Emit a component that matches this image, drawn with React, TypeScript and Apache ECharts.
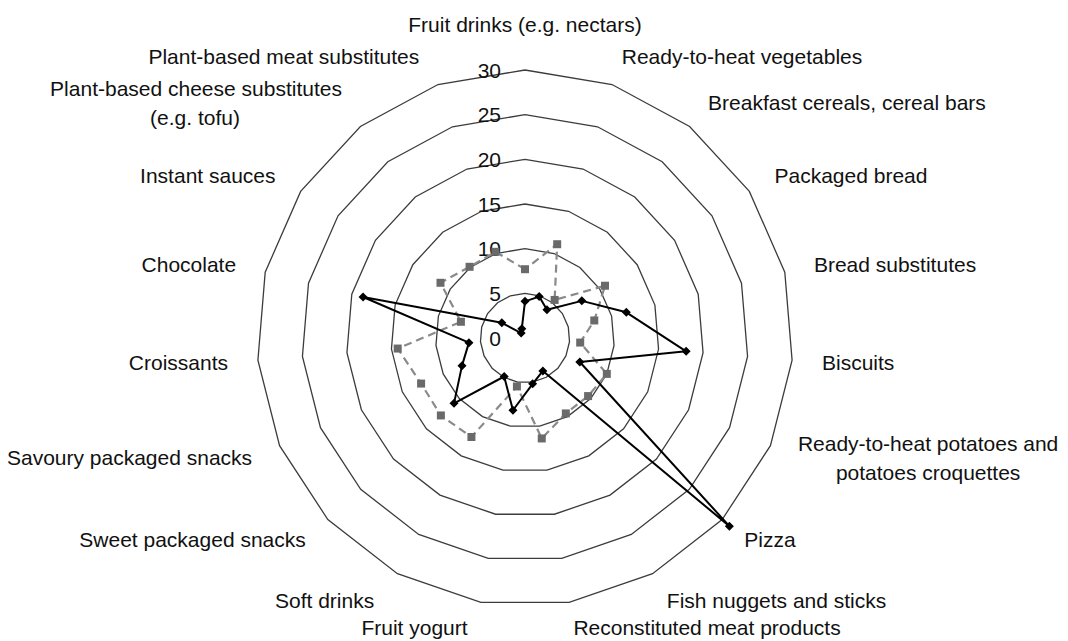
import React, { useEffect, useRef } from "react";
import * as echarts from "echarts";

// Categories in clockwise order, starting at the top
const categories: string[] = [
  "Fruit drinks (e.g. nectars)",
  "Ready-to-heat vegetables",
  "Breakfast cereals, cereal bars",
  "Packaged bread",
  "Bread substitutes",
  "Biscuits",
  "Ready-to-heat potatoes and\npotatoes croquettes",
  "Pizza",
  "Fish nuggets and sticks",
  "Reconstituted meat products",
  "Fruit yogurt",
  "Soft drinks",
  "Sweet packaged snacks",
  "Savoury packaged snacks",
  "Croissants",
  "Chocolate",
  "Instant sauces",
  "Plant-based cheese substitutes\n(e.g. tofu)",
  "Plant-based meat substitutes",
];

const solidSeries: number[] = [
  4.1, 4.9, 4.0, 7.6, 11.7, 18.1, 6.7, 31.1, 4.2, 5.2, 8.2, 4.9, 10.8, 7.7, 6.3, 18.7, 3.1, 0.7, 1.1,
];

const dashedSeries: number[] = [
  7.7, 11.1, 5.4, 10.7, 8.0, 6.2, 10.0, 9.6, 9.6, 11.4, 5.5, 12.6, 12.8, 12.7, 14.3, 7.4, 11.3, 10.1, 10.2,
];

const axisMax = 30;
const axisSplits = 6;

// ECharts places indicators counter-clockwise; reorder so the picture runs clockwise
const n = categories.length;
const order: number[] = [0, ...Array.from({ length: n - 1 }, (_, i) => n - 1 - i)];

const FONT = "'Liberation Sans', Arial, sans-serif";

export default function App() {
  const ref = useRef<HTMLDivElement>(null);

  useEffect(() => {
    if (!ref.current) return;
    const chart = echarts.init(ref.current, undefined, { renderer: "svg" });

    const bottomNames = new Set<string>(["Fruit yogurt", "Reconstituted meat products"]);

    const indicator = order.map((idx, j) => {
      const ind: any = { name: categories[idx], max: axisMax, min: 0 };
      if (j === 0) {
        ind.axisLabel = {
          show: true,
          fontSize: 21,
          color: "#111",
          fontFamily: FONT,
          margin: 24,
          padding: [0, 0, 5, 0],
        };
        ind.nameGap = 31;
      }
      if (bottomNames.has(categories[idx])) ind.nameGap = 26;
      return ind;
    });

    const shiftLeft = new Set<string>([
      "Fruit yogurt",
      "Soft drinks",
      "Plant-based meat substitutes",
    ]);

    const option: any = {
      animation: false,
      backgroundColor: "#ffffff",
      radar: {
        center: [525, 338],
        radius: 268,
        startAngle: 90,
        shape: "polygon",
        splitNumber: axisSplits,
        nameGap: 30,
        axisName: {
          color: "#111",
          fontSize: 21,
          fontFamily: FONT,
          lineHeight: 29,
          formatter: (name: any, ind: any) => {
            const s: string = String(name ?? (ind && ind.name) ?? "");
            const lines = s.split("\n");
            if (lines.length === 2) {
              if (s.startsWith("Plant-based cheese")) {
                return `{n|${lines[0]}}\n{c|${lines[1]}}`;
              }
              return `{n|${lines[0]}}\n{p|${lines[1]}}`;
            }
            if (shiftLeft.has(s)) return `{s|${s}}`;
            return `{n|${s}}`;
          },
          rich: {
            n: { fontSize: 21, color: "#111", fontFamily: FONT, lineHeight: 29 },
            c: { fontSize: 21, color: "#111", fontFamily: FONT, lineHeight: 29, padding: [0, 102, 0, 0] },
            p: { fontSize: 21, color: "#111", fontFamily: FONT, lineHeight: 29, padding: [0, 0, 0, 38] },
            s: { fontSize: 21, color: "#111", fontFamily: FONT, lineHeight: 29, padding: [0, 9, 0, 0] },
          },
        },
        axisLine: { show: false },
        axisTick: { show: false },
        axisLabel: { show: false },
        splitLine: { lineStyle: { color: "#3c3c3c", width: 1.3 } },
        splitArea: { show: false },
        indicator,
      },
      series: [
        {
          type: "radar",
          data: [
            {
              name: "Series B",
              value: order.map((i) => dashedSeries[i]),
              symbol: "rect",
              symbolSize: 8,
              itemStyle: { color: "#6a6a6a" },
              lineStyle: { color: "#8a8a8a", width: 2.2, type: [8, 5] },
            },
            {
              name: "Series A",
              value: order.map((i) => solidSeries[i]),
              symbol: "diamond",
              symbolSize: 9,
              itemStyle: { color: "#000" },
              lineStyle: { color: "#000", width: 2 },
            },
          ],
        },
      ],
    };

    chart.setOption(option);
    return () => chart.dispose();
  }, []);

  return (
    <div
      ref={ref}
      style={{ position: "fixed", left: 0, top: 0, width: 1068, height: 641, background: "#fff" }}
    />
  );
}
